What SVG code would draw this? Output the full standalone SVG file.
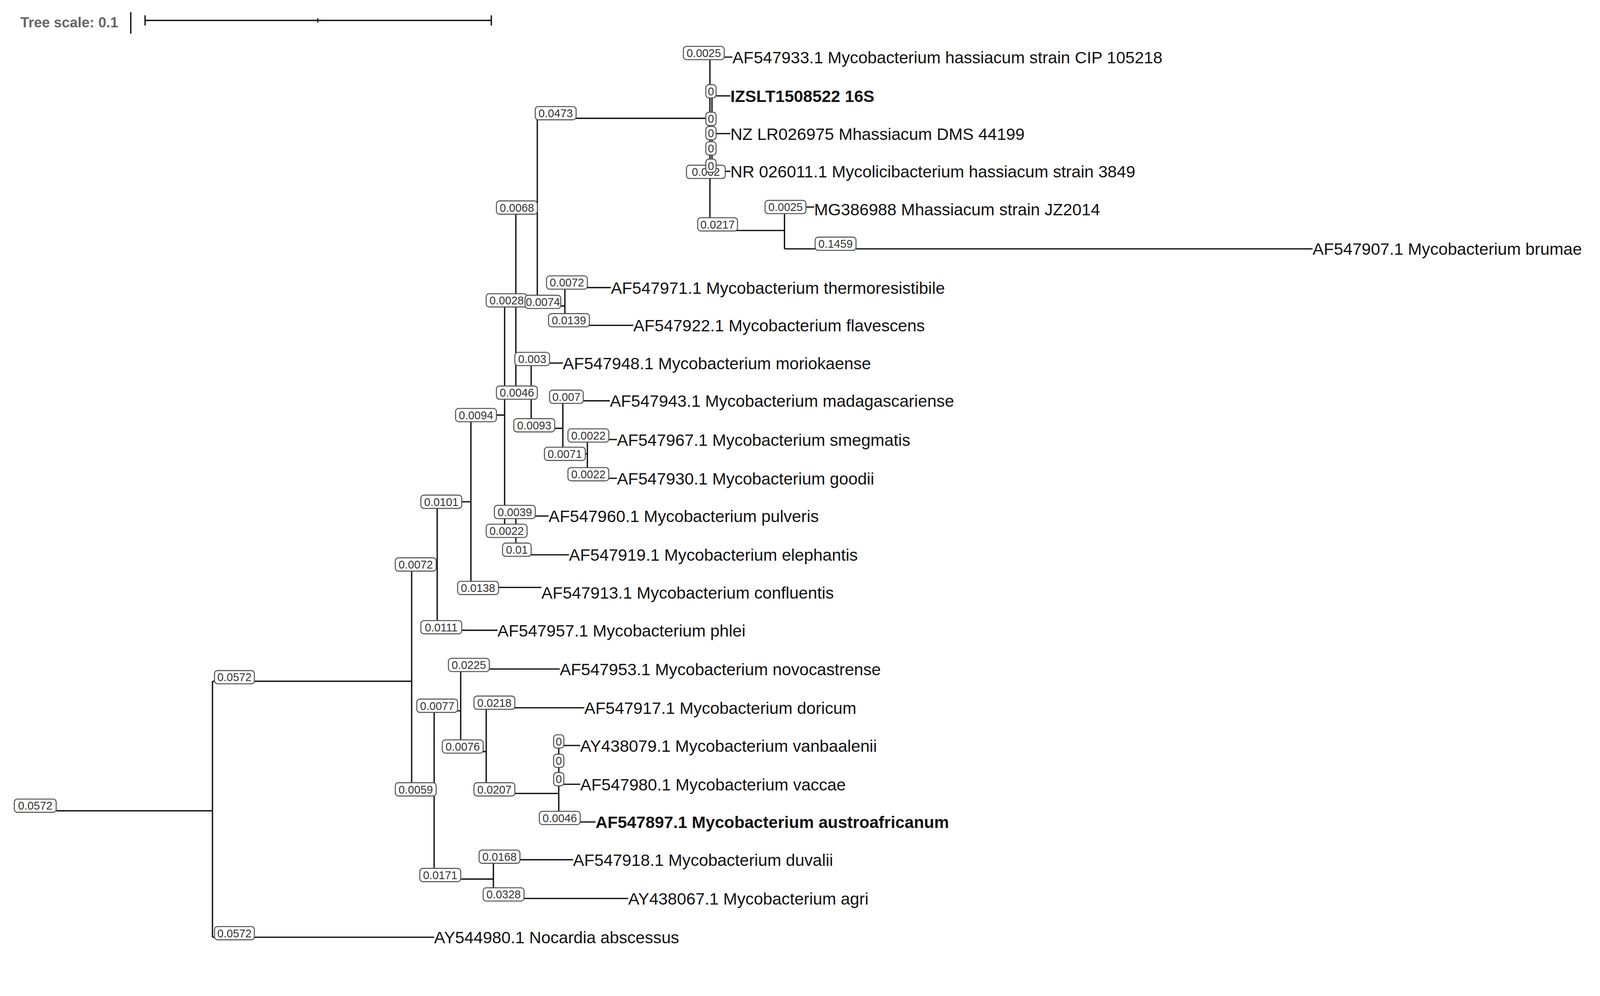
<svg xmlns="http://www.w3.org/2000/svg" width="4264" height="2549" viewBox="0 0 4264 2549">
<style>
.e{stroke:#111;stroke-width:1.3;fill:none}
.b rect{fill:#fff;stroke:#555;stroke-width:1}
.b text{font-family:"Liberation Sans",Arial,sans-serif;font-size:11px;fill:#333;text-anchor:middle}
.l{font-family:"Liberation Sans",Arial,sans-serif;font-size:16.3px;fill:#111}
.bold{font-weight:bold}
</style>
<rect width="4264" height="2549" fill="#fff"/>
<g transform="scale(2.615,2.61)">
<g id="scale">
<text x="20" y="27" class="l" style="font-size:14px;fill:#666;font-weight:bold">Tree scale: 0.1</text>
<path class="e" d="M128 12V33M142 20H481M142 15V25M311 18V22M481 15V25"/>
</g>
<g id="connectors" class="e">
<path d="M55 795H208M208 668V919M208 919H425M208 668H403M403 553V774"/>
<path d="M403 553H428M428 492V618M428 618H487M428 492H461M461 407V576M461 576H530M461 407H494M494 294V520"/>
<path d="M494 294H505M505 203V385M505 203H526M526 111V294M526 116H695M695 56V160M695 56H717M697 94V168M697 94H715M697 131H715M697 168H715M695 168V226M695 226H768M768 203V244M768 203H797M768 244H1285"/>
<path d="M526 300H553M553 282V319M553 282H598M553 319H620"/>
<path d="M505 390H520M520 356V420M520 356H551M520 420H551M551 393V445M551 393H597M551 445H575M575 431V469M575 431H604M575 469H604"/>
<path d="M494 520H505M505 506V544M505 506H537M505 544H557"/>
<path d="M403 774H425M425 697V862M425 697H451M451 656V737M451 656H548M451 737H476M476 694V778M476 694H572M476 778H547M547 731V806M547 731H568M547 769H568M547 806H583M425 862H483M483 843V881M483 843H561M483 881H615"/>
</g>
<g id="branch-labels" class="b">
<rect x="14" y="783.5" width="41" height="13" rx="3"/><text x="34.5" y="794">0.0572</text>
<rect x="210" y="657.5" width="39" height="13" rx="3"/><text x="229.5" y="668">0.0572</text>
<rect x="210" y="908.5" width="39" height="13" rx="3"/><text x="229.5" y="919">0.0572</text>
<rect x="387" y="547" width="40" height="13" rx="3"/><text x="407" y="557.5">0.0072</text>
<rect x="412" y="485.5" width="40" height="13" rx="3"/><text x="432" y="496">0.0101</text>
<rect x="412" y="608.5" width="40" height="13" rx="3"/><text x="432" y="619">0.0111</text>
<rect x="446" y="400.5" width="40" height="13" rx="3"/><text x="466" y="411">0.0094</text>
<rect x="448" y="570" width="40" height="13" rx="3"/><text x="468" y="580.5">0.0138</text>
<rect x="476" y="288" width="40" height="13" rx="3"/><text x="496" y="298.5">0.0028</text>
<rect x="476" y="514" width="40" height="13" rx="3"/><text x="496" y="524.5">0.0022</text>
<rect x="486" y="197" width="40" height="13" rx="3"/><text x="506" y="207.5">0.0068</text>
<rect x="486" y="378.5" width="40" height="13" rx="3"/><text x="506" y="389">0.0046</text>
<rect x="524" y="104.5" width="40" height="13" rx="3"/><text x="544" y="115">0.0473</text>
<rect x="669" y="45.5" width="40" height="13" rx="3"/><text x="689" y="56">0.0025</text>
<rect x="672" y="162" width="38" height="13" rx="3"/><text x="691" y="172.5">0.002</text>
<rect x="691" y="83" width="10" height="13" rx="3"/><text x="696" y="93.5">0</text>
<rect x="691" y="110" width="10" height="13" rx="3"/><text x="696" y="120.5">0</text>
<rect x="691" y="124" width="10" height="13" rx="3"/><text x="696" y="134.5">0</text>
<rect x="691" y="139" width="10" height="13" rx="3"/><text x="696" y="149.5">0</text>
<rect x="691" y="156" width="10" height="13" rx="3"/><text x="696" y="166.5">0</text>
<rect x="683" y="213.5" width="39" height="13" rx="3"/><text x="702.5" y="224">0.0217</text>
<rect x="749" y="196.5" width="40" height="13" rx="3"/><text x="769" y="207">0.0025</text>
<rect x="798" y="232.5" width="40" height="13" rx="3"/><text x="818" y="243">0.1459</text>
<rect x="514" y="289.5" width="35" height="13" rx="3"/><text x="531.5" y="300">0.0074</text>
<rect x="535" y="270.5" width="40" height="13" rx="3"/><text x="555" y="281">0.0072</text>
<rect x="537" y="307.5" width="40" height="13" rx="3"/><text x="557" y="318">0.0139</text>
<rect x="504" y="345.5" width="34" height="13" rx="3"/><text x="521" y="356">0.003</text>
<rect x="503" y="410.5" width="40" height="13" rx="3"/><text x="523" y="421">0.0093</text>
<rect x="538" y="382.5" width="33" height="13" rx="3"/><text x="554.5" y="393">0.007</text>
<rect x="533" y="438.5" width="40" height="13" rx="3"/><text x="553" y="449">0.0071</text>
<rect x="556" y="420.5" width="40" height="13" rx="3"/><text x="576" y="431">0.0022</text>
<rect x="556" y="458.5" width="40" height="13" rx="3"/><text x="576" y="469">0.0022</text>
<rect x="484" y="495.5" width="40" height="13" rx="3"/><text x="504" y="506">0.0039</text>
<rect x="492" y="532.5" width="28" height="13" rx="3"/><text x="506" y="543">0.01</text>
<rect x="387" y="767.5" width="40" height="13" rx="3"/><text x="407" y="778">0.0059</text>
<rect x="408" y="685.5" width="40" height="13" rx="3"/><text x="428" y="696">0.0077</text>
<rect x="411" y="851.5" width="40" height="13" rx="3"/><text x="431" y="862">0.0171</text>
<rect x="439" y="645.5" width="40" height="13" rx="3"/><text x="459" y="656">0.0225</text>
<rect x="433" y="725.5" width="40" height="13" rx="3"/><text x="453" y="736">0.0076</text>
<rect x="464" y="682.5" width="40" height="13" rx="3"/><text x="484" y="693">0.0218</text>
<rect x="464" y="767.5" width="40" height="13" rx="3"/><text x="484" y="778">0.0207</text>
<rect x="542" y="720.5" width="10" height="13" rx="3"/><text x="547" y="731">0</text>
<rect x="542" y="739.5" width="10" height="13" rx="3"/><text x="547" y="750">0</text>
<rect x="542" y="757.5" width="10" height="13" rx="3"/><text x="547" y="768">0</text>
<rect x="528" y="795.5" width="40" height="13" rx="3"/><text x="548" y="806">0.0046</text>
<rect x="469" y="833.5" width="40" height="13" rx="3"/><text x="489" y="844">0.0168</text>
<rect x="473" y="870.5" width="40" height="13" rx="3"/><text x="493" y="881">0.0328</text>
</g>
<g id="leaves">
<g id="n1"><text class="l" x="717" y="62">AF547933.1 Mycobacterium hassiacum strain CIP 105218</text></g>
<g id="n2"><text class="l bold" x="715" y="100">IZSLT1508522 16S</text></g>
<g id="n3"><text class="l" x="715" y="137">NZ LR026975 Mhassiacum DMS 44199</text></g>
<g id="n4"><text class="l" x="715" y="174">NR 026011.1 Mycolicibacterium hassiacum strain 3849</text></g>
<g id="n5"><text class="l" x="797" y="211">MG386988 Mhassiacum strain JZ2014</text></g>
<g id="n6"><text class="l" x="1285" y="250">AF547907.1 Mycobacterium brumae</text></g>
<g id="n7"><text class="l" x="598" y="288">AF547971.1 Mycobacterium thermoresistibile</text></g>
<g id="n8"><text class="l" x="620" y="325">AF547922.1 Mycobacterium flavescens</text></g>
<g id="n9"><text class="l" x="551" y="362">AF547948.1 Mycobacterium moriokaense</text></g>
<g id="n10"><text class="l" x="597" y="399">AF547943.1 Mycobacterium madagascariense</text></g>
<g id="n11"><text class="l" x="604" y="437">AF547967.1 Mycobacterium smegmatis</text></g>
<g id="n12"><text class="l" x="604" y="475">AF547930.1 Mycobacterium goodii</text></g>
<g id="n13"><text class="l" x="537" y="512">AF547960.1 Mycobacterium pulveris</text></g>
<g id="n14"><text class="l" x="557" y="550">AF547919.1 Mycobacterium elephantis</text></g>
<g id="n15"><text class="l" x="530" y="587">AF547913.1 Mycobacterium confluentis</text></g>
<g id="n16"><text class="l" x="487" y="624">AF547957.1 Mycobacterium phlei</text></g>
<g id="n17"><text class="l" x="548" y="662">AF547953.1 Mycobacterium novocastrense</text></g>
<g id="n18"><text class="l" x="572" y="700">AF547917.1 Mycobacterium doricum</text></g>
<g id="n19"><text class="l" x="568" y="737">AY438079.1 Mycobacterium vanbaalenii</text></g>
<g id="n20"><text class="l" x="568" y="775">AF547980.1 Mycobacterium vaccae</text></g>
<g id="n21"><text class="l bold" x="583" y="812">AF547897.1 Mycobacterium austroafricanum</text></g>
<g id="n22"><text class="l" x="561" y="849">AF547918.1 Mycobacterium duvalii</text></g>
<g id="n23"><text class="l" x="615" y="887">AY438067.1 Mycobacterium agri</text></g>
<g id="n24"><text class="l" x="425" y="925">AY544980.1 Nocardia abscessus</text></g>
</g>
</g>
</svg>
